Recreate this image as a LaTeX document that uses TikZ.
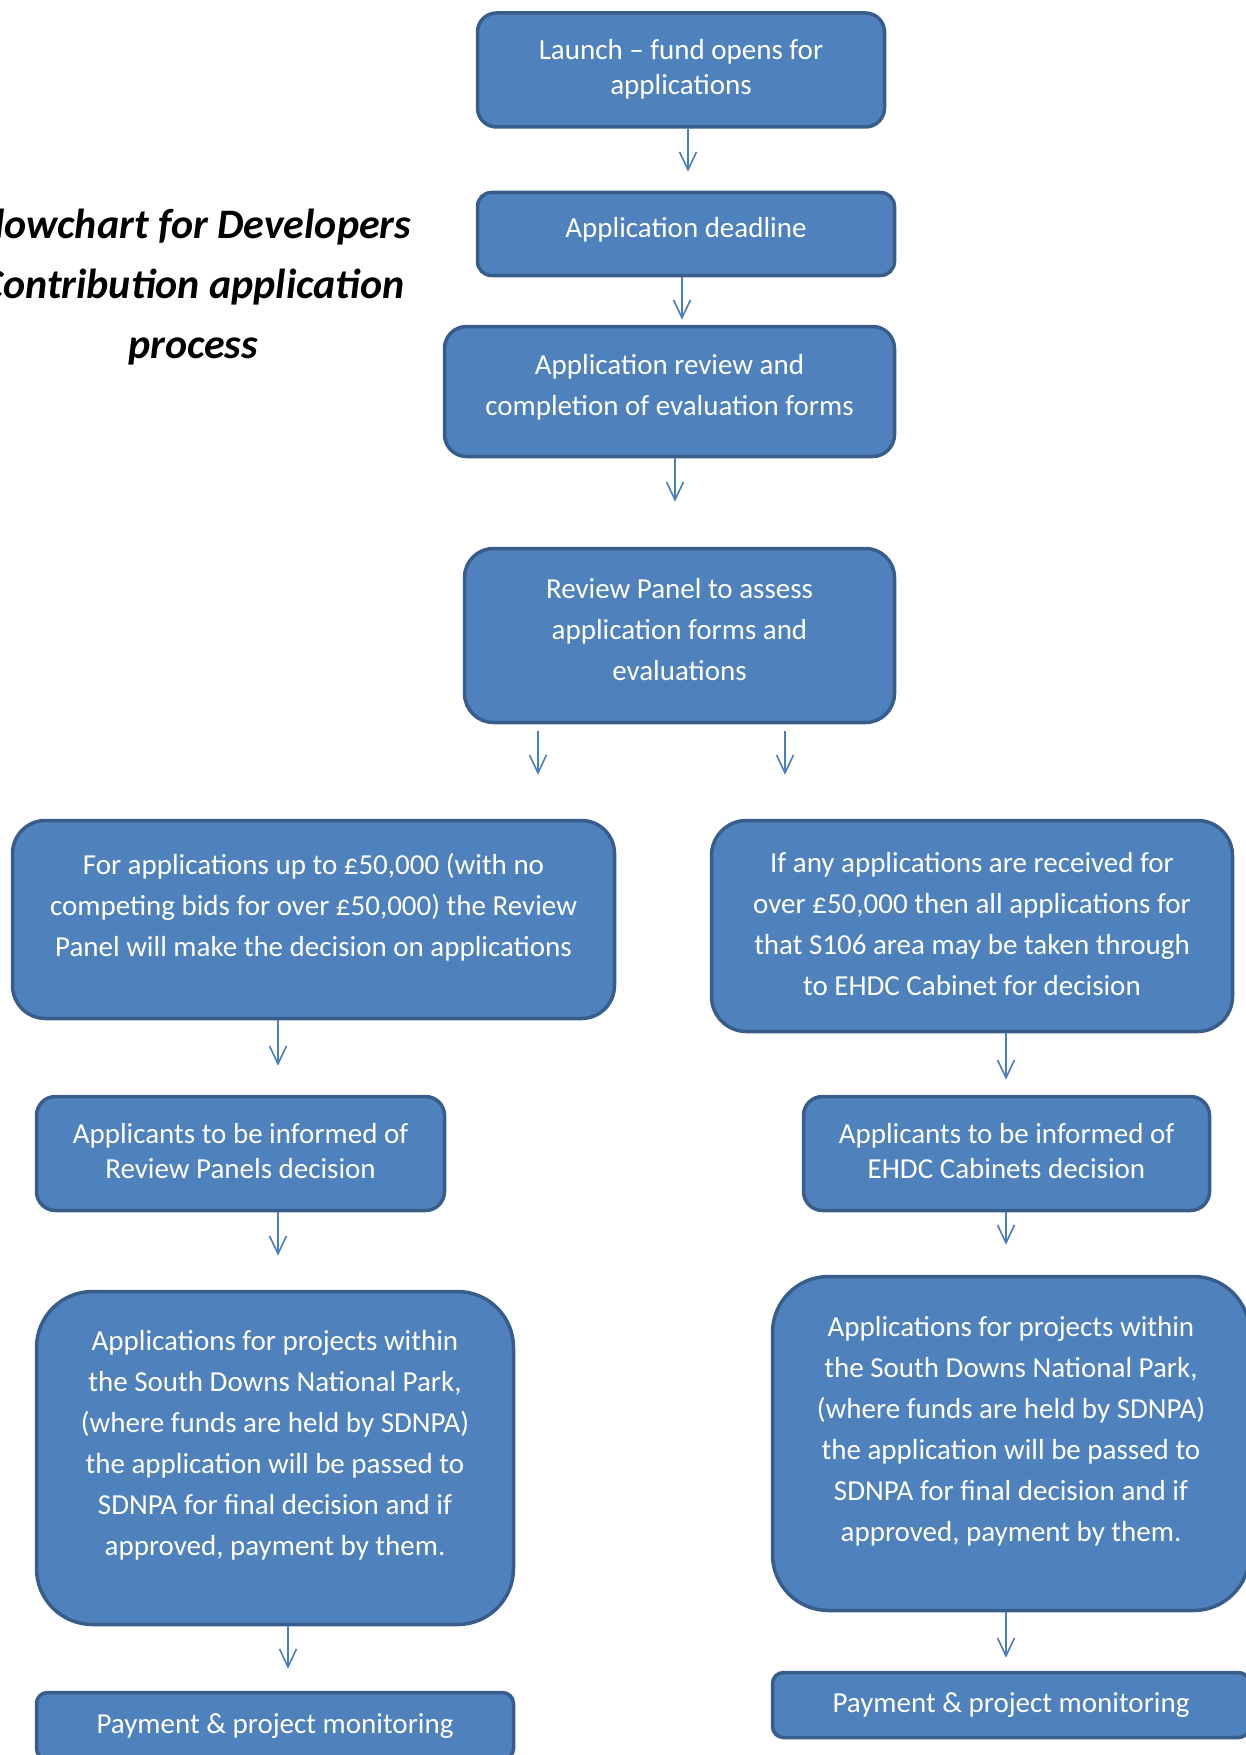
\documentclass[tikz,border=0pt]{standalone}
\usepackage{fontspec}
\setmainfont{Carlito}
\usepackage{tikz}
\usetikzlibrary{positioning,arrows.meta}
\definecolor{boxfill}{HTML}{4F81BD}
\definecolor{boxline}{HTML}{385D8A}
\definecolor{arrowblue}{HTML}{4A7EBB}
\tikzstyle{StepNode}=[draw=boxline, fill=boxfill, line width=3.5pt, text=white, align=center, font=\fontsize{29pt}{41pt}\selectfont]
\tikzstyle{TightNode}=[StepNode, font=\fontsize{29pt}{35pt}\selectfont]
\tikzstyle{FlowArrow}=[draw=arrowblue, line width=1.6pt, -{Straight Barb[length=18pt,width=17pt,line width=1.6pt]}]

\begin{document}
\begin{tikzpicture}[x=1pt, y=-1pt]
      \useasboundingbox (0,0) rectangle (1246,1755);
      \node[font=\fontsize{42pt}{60pt}\selectfont\bfseries\itshape, align=center] (0) at (193,287) {Flowchart for Developers\\Contribution application\\process};
      \node[TightNode, rounded corners=19pt, minimum width=407pt, minimum height=114pt, text depth=6pt] (1) at (681,70) {Launch – fund opens for\\applications};
      \node[StepNode, rounded corners=14pt, minimum width=417pt, minimum height=83pt, text depth=13pt] (2) at (686,234) {Application deadline};
      \node[StepNode, rounded corners=22pt, minimum width=450pt, minimum height=130pt, text depth=14pt] (3) at (669.5,391.5) {Application review and\\completion of evaluation forms};
      \node[StepNode, rounded corners=29pt, minimum width=430pt, minimum height=174pt, text depth=12pt] (4) at (679.5,635.5) {Review Panel to assess\\application forms and\\evaluations};
      \node[StepNode, rounded corners=33pt, minimum width=602pt, minimum height=198pt, text depth=30pt] (5) at (313.5,919.5) {For applications up to £50,000 (with no\\competing bids for over £50,000) the Review\\Panel will make the decision on applications};
      \node[StepNode, rounded corners=35pt, minimum width=521pt, minimum height=211pt, text depth=4pt] (6) at (972,926) {If any applications are received for\\over £50,000 then all applications for\\that S106 area may be taken through\\to EHDC Cabinet for decision};
      \node[TightNode, rounded corners=19pt, minimum width=408pt, minimum height=114pt, text depth=6pt] (7) at (240.5,1153.5) {Applicants to be informed of\\Review Panels decision};
      \node[TightNode, rounded corners=19pt, minimum width=406pt, minimum height=114pt, text depth=6pt] (8) at (1006.5,1153.5) {Applicants to be informed of\\EHDC Cabinets decision};
      \node[StepNode, rounded corners=56pt, minimum width=477pt, minimum height=333pt, text depth=30pt] (9) at (275,1458) {Applications for projects within\\the South Downs National Park,\\(where funds are held by SDNPA)\\the application will be passed to\\SDNPA for final decision and if\\approved, payment by them.};
      \node[StepNode, rounded corners=56pt, minimum width=477pt, minimum height=334pt, text depth=30pt] (10) at (1011,1443.5) {Applications for projects within\\the South Downs National Park,\\(where funds are held by SDNPA)\\the application will be passed to\\SDNPA for final decision and if\\approved, payment by them.};
      \node[StepNode, rounded corners=11pt, minimum width=477pt, minimum height=67pt] (11) at (275,1726) {Payment \& project monitoring};
      \node[StepNode, rounded corners=11pt, minimum width=477pt, minimum height=65pt] (12) at (1011,1705) {Payment \& project monitoring};
      \draw[FlowArrow, shorten >=19pt] ([xshift=7pt]1.south) -- ([xshift=2pt]2.north);
      \draw[FlowArrow, shorten >=5pt] ([xshift=-4pt]2.south) -- ([xshift=12.5pt]3.north);
      \draw[FlowArrow, shorten >=45pt] ([xshift=5.5pt]3.south) -- ([xshift=-4.5pt]4.north);
      \draw[FlowArrow, shorten <=7pt, shorten >=44pt] ([xshift=-141.5pt]4.south) -- ([xshift=224.5pt]5.north);
      \draw[FlowArrow, shorten <=7pt, shorten >=44pt] ([xshift=105.5pt]4.south) -- ([xshift=-187pt]6.north);
      \draw[FlowArrow, shorten >=29pt] ([xshift=-35.5pt]5.south) -- ([xshift=37.5pt]7.north);
      \draw[FlowArrow, shorten >=15pt] ([xshift=34pt]6.south) -- ([xshift=-0.5pt]8.north);
      \draw[FlowArrow, shorten >=34pt] ([xshift=37.5pt]7.south) -- ([xshift=3pt]9.north);
      \draw[FlowArrow, shorten >=30pt] ([xshift=-0.5pt]8.south) -- ([xshift=-5pt]10.north);
      \draw[FlowArrow, shorten >=22pt] ([xshift=13pt]9.south) -- ([xshift=13pt]11.north);
      \draw[FlowArrow, shorten >=13pt] ([xshift=-5pt]10.south) -- ([xshift=-5pt]12.north);
    \end{tikzpicture}
\end{document}
